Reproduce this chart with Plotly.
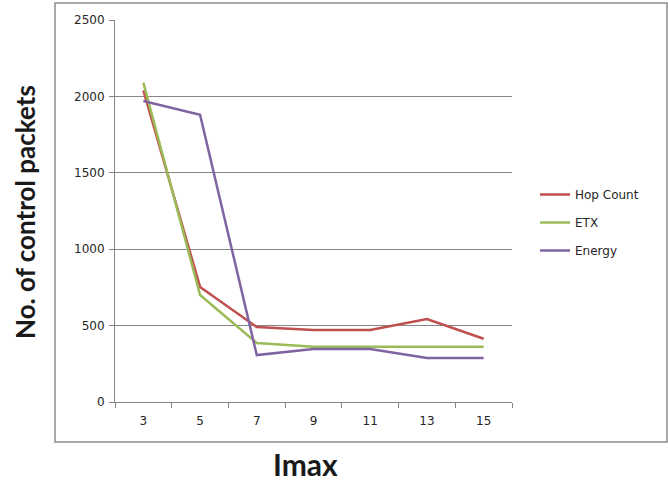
import plotly.graph_objects as go

categories = ["3", "5", "7", "9", "11", "13", "15"]
hop_count = [2040, 753, 491, 471, 471, 543, 414]
etx = [2090, 700, 386, 362, 362, 362, 362]
energy = [1970, 1880, 307, 347, 347, 288, 288]

series_names = ["Hop Count", "ETX", "Energy"]
series_colors = ["#C0504D", "#9BBB59", "#8064A2"]

W, H = 668, 484
L, R, T, B = 115, 512, 20, 402

def px_x(p):
    return (p - L) / (R - L)

def px_y(p):
    return (B - p) / (B - T)

fig = go.Figure()
for i, (name, vals, col) in enumerate(zip(series_names, [hop_count, etx, energy], series_colors)):
    fig.add_trace(go.Scatter(
        x=categories, y=vals, name=name, mode="lines",
        line=dict(color=col, width=2.5),
        legendgroup=f"g{i}",
    ))

axis_col = "#868686"
fig.update_layout(
    width=W, height=H,
    margin=dict(l=L, r=W - R, t=T, b=H - B),
    paper_bgcolor="white", plot_bgcolor="white",
    font=dict(family="DejaVu Sans", size=12, color="#262626"),
    showlegend=True,
    legend=dict(
        x=px_x(535), y=px_y(180), xanchor="left", yanchor="top",
        font=dict(family="DejaVu Sans", size=12, color="#262626"),
        tracegroupgap=9, bgcolor="rgba(0,0,0,0)",
    ),
    xaxis=dict(
        type="category", range=[-0.5, 6.5],
        showline=True, linecolor=axis_col, linewidth=1,
        ticks="outside", tickson="boundaries", ticklen=5, tickcolor=axis_col,
        ticklabelstandoff=8,
        showgrid=False, zeroline=False,
        tickfont=dict(family="DejaVu Sans", size=12, color="#262626"),
    ),
    yaxis=dict(
        range=[0, 2500], dtick=500, tick0=0,
        showline=True, linecolor=axis_col, linewidth=1,
        ticks="outside", ticklen=5, tickcolor=axis_col,
        ticklabelstandoff=2,
        showgrid=True, gridcolor=axis_col, gridwidth=1,
        zeroline=False,
        tickfont=dict(family="DejaVu Sans", size=12, color="#262626"),
    ),
    shapes=[dict(
        type="rect", xref="paper", yref="paper",
        x0=px_x(55), x1=px_x(667), y0=px_y(442), y1=px_y(3),
        line=dict(color="#8c8c8c", width=1.5), fillcolor="rgba(0,0,0,0)",
        layer="below",
    )],
    annotations=[
        dict(text="<b>No. of control packets</b>", xref="paper", yref="paper",
             x=px_x(25), y=px_y(212), textangle=-90, showarrow=False,
             xanchor="center", yanchor="middle",
             font=dict(family="Lato", size=26, color="#1a1a1a")),
        dict(text="<b>Imax</b>", xref="paper", yref="paper",
             x=px_x(305), y=px_y(464), showarrow=False,
             xanchor="center", yanchor="middle",
             font=dict(family="Lato", size=30, color="#1a1a1a")),
    ],
)

fig.write_html("out.html")
